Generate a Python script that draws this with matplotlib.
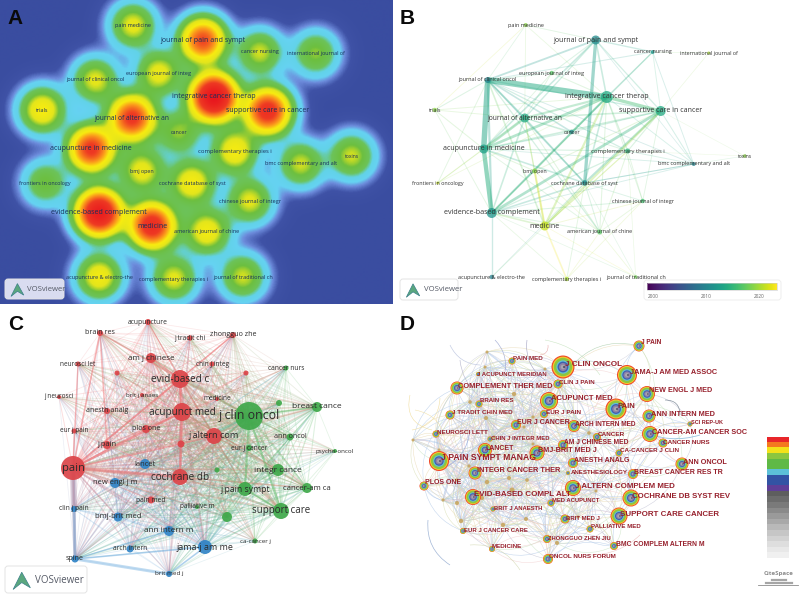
import itertools
import numpy as np
import matplotlib
matplotlib.use('Agg')
import matplotlib.pyplot as plt
from matplotlib.collections import LineCollection
from matplotlib.colors import LinearSegmentedColormap, ListedColormap, to_rgb
from matplotlib.patches import Circle, FancyBboxPatch, PathPatch, Polygon
from matplotlib.path import Path

plt.rcParams['font.family'] = ['Open Sans', 'DejaVu Sans']

# journal map shared by panels A and B (x, y as read in panel A)
journals = ['pain medicine', 'journal of pain and sympt', 'cancer nursing', 'international journal of',
            'european journal of integ', 'journal of clinical oncol', 'integrative cancer therap',
            'supportive care in cancer', 'trials', 'journal of alternative an', 'cancer',
            'acupuncture in medicine', 'complementary therapies i', 'bmc complementary and alt',
            'toxins', 'bmj open', 'frontiers in oncology', 'cochrane database of syst',
            'chinese journal of integr', 'evidence-based complement', 'medicine',
            'american journal of chine', 'acupuncture & electro-the', 'complementary therapies i',
            'journal of traditional ch']
journal_x = [133, 203, 260, 316, 159, 95, 214, 268, 42, 132, 179, 91, 235, 301, 352, 142, 45, 192, 250, 99, 152,
             207, 99, 174, 243]
journal_y = [25, 40, 52, 53, 73, 80, 97, 111, 110, 118, 132, 149, 151, 164, 156, 171, 183, 183, 201, 213, 226,
             232, 277, 279, 277]
journal_density = [.43, .72, .40, .36, .44, .42, .98, .80, .49, .76, .36, .76, .48, .40, .40, .44, .34, .48, .42,
                   .92, .82, .47, .47, .42, .40]
journal_year = [2019, 2011, 2012, 2020, 2017, 2010, 2014, 2014, 2019, 2014, 2011, 2013, 2015, 2010, 2019, 2019,
                2021, 2011, 2016, 2012, 2021, 2017, 2010, 2020, 2018]
journal_size = [2, 4.5, 2, 1.5, 2.2, 3, 6, 5, 2.2, 4.5, 2.2, 4.5, 2.5, 2, 1.8, 2.5, 1.5, 2.8, 2.2, 5, 4.5, 2.5,
                2.2, 2.2, 1.8]
journal_font = [4, 5, 4, 3.9, 4, 4, 5.1, 5, 3.9, 4.9, 3.9, 5, 4.2, 4, 3.6, 3.9, 3.9, 4, 4, 5.1, 5, 4, 4, 4, 4]
# (a, b, strength)
journal_links = [(5, 6, 5), (5, 11, 4.5), (11, 19, 3.5), (1, 17, 2.5), (6, 7, 2.5), (5, 19, 1.5), (6, 9, 1.5),
                 (6, 11, 2), (7, 19, 2), (7, 17, 1.5), (6, 19, 1.5), (6, 20, 1.5), (5, 1, 1.2), (9, 11, 2),
                 (5, 9, 1.2), (19, 20, 1), (7, 20, 1.5), (15, 20, 1.5), (22, 19, .8), (20, 23, 1), (1, 6, 1),
                 (1, 11, 1), (1, 9, .8), (17, 19, 1), (17, 11, 1), (5, 10, 1), (5, 17, 1), (5, 20, 1), (9, 17, 1),
                 (9, 19, 1), (9, 7, 1), (11, 7, 1), (5, 12, .7), (5, 7, .8), (6, 17, 1), (6, 10, .8), (1, 7, .7),
                 (1, 2, .8), (2, 6, .7), (1, 4, .5), (0, 1, .4), (0, 8, .3), (0, 5, .3), (0, 9, .3), (0, 6, .3),
                 (2, 3, .2), (3, 7, .2), (2, 5, .5), (2, 19, .7), (2, 13, .4), (2, 7, .4), (4, 5, .5), (4, 6, .5),
                 (4, 9, .4), (4, 11, .4), (8, 5, .5), (8, 11, .5), (8, 19, .4), (8, 6, .4), (8, 9, .4), (16, 11, .4),
                 (16, 5, .4), (16, 9, .4), (16, 6, .3), (10, 9, .6), (10, 11, .6), (10, 7, .5), (10, 19, .5),
                 (12, 6, .8), (12, 7, .6), (12, 11, .6), (12, 19, .7), (12, 20, .6), (12, 21, .5), (12, 13, .4),
                 (12, 18, .4), (12, 9, .5), (13, 7, .5), (13, 6, .4), (13, 17, .5), (13, 19, .4), (13, 1, .3),
                 (13, 14, .2), (13, 11, .4), (13, 5, .4), (15, 6, .5), (15, 7, .5), (15, 11, .5), (15, 19, .5),
                 (15, 9, .5), (15, 21, .3), (17, 18, .4), (17, 21, .5), (17, 20, .7), (17, 23, .4), (17, 13, .4),
                 (18, 19, .5), (18, 7, .4), (18, 6, .4), (18, 21, .4), (18, 20, .4), (21, 19, .5), (21, 9, .5),
                 (21, 6, .5), (21, 23, .3), (21, 24, .3), (21, 11, .4), (21, 5, .7), (22, 17, .3), (22, 20, .3),
                 (23, 19, .3), (23, 18, .3), (24, 19, .2), (24, 20, .2), (24, 17, .2), (24, 12, .2), (14, 7, .1),
                 (14, 12, .1), (20, 9, .8), (20, 12, .4)]

# cited journal map, panel C (cluster 0 red, 1 green, 2 blue)
cited_labels = ['acupuncture', 'brain res', 'j tradit chi', 'zhongguo zhe', 'am j chinese', 'neurosci let',
                'chin j integ', '', '', 'evid-based c', 'cancer nurs', 'brit j anaes', 'j neurosci', 'medicine', '',
                'breast cance', 'j clin oncol', 'acupunct med', 'anesth analg', 'eur j pain', 'plos one',
                'j altern com', 'ann oncol', 'j pain', '', 'eur j cancer', 'psycho-oncol', 'lancet', 'pain', '',
                'integr cance', 'cochrane db', 'new engl j m', 'j pain sympt', 'cancer-am ca', 'pain med',
                'clin j pain', 'palliative m', 'support care', '', 'bmj-brit med', 'ann intern m', 'ca-cancer j',
                'jama-j am me', 'arch intern', 'spine', 'brit med j']
cited_x = [148, 100, 190, 233, 151, 78, 212, 117, 246, 180, 286, 142, 59, 217, 279, 317, 249, 182, 107, 74, 146,
           214, 290, 107, 181, 249, 335, 145, 73, 217, 278, 180, 115, 245, 307, 151, 74, 197, 281, 227, 118, 169,
           255, 205, 130, 75, 169]
cited_y = [322, 333, 338, 335, 358, 364, 364, 373, 373, 379, 368, 395, 397, 399, 403, 407, 416, 412, 411, 431, 429,
           436, 437, 445, 444, 448, 451, 464, 468, 470, 470, 477, 483, 489, 488, 500, 509, 507, 511, 517, 517, 531,
           541, 547, 549, 559, 574]
cited_size = [3, 3, 2.7, 3, 5, 2.5, 2.5, 2.5, 2.5, 9, 2.5, 2, 2, 2, 3, 5, 14, 9, 3, 2.5, 4, 8, 3.5, 4, 3.5, 3, 2,
              5, 12, 2.5, 6, 8, 5, 7, 5, 3.5, 3, 2, 8, 5, 4.5, 5, 2.5, 7, 3.5, 3.5, 3]
cited_cluster = [0, 0, 0, 0, 0, 0, 0, 0, 0, 0, 1, 0, 0, 0, 1, 1, 1, 0, 0, 0, 0, 0, 1, 0, 0, 1, 1, 2, 0, 1, 1, 0, 2,
                 1, 1, 0, 2, 1, 1, 1, 2, 2, 1, 2, 2, 2, 2]
cited_font = [4.9, 5.1, 4.8, 5.1, 5.8, 4.7, 4.7, 0, 0, 7.2, 4.8, 4.5, 4.7, 4.7, 0, 6, 8.9, 7.2, 5, 4.7, 5.1, 6.6,
              5.1, 5.4, 0, 4.8, 4.5, 5.4, 8, 0, 6, 7.2, 5.5, 6.2, 5.6, 4.8, 4.8, 4.7, 7, 0, 5.5, 5.9, 4.5, 6.5, 4.8,
              5, 4.6]
cited_strong = [(28, 36, 4.5), (28, 45, 2.5), (45, 46, 2.2), (45, 36, 2), (28, 31, 2.5), (17, 31, 2), (17, 9, 2),
                (28, 17, 1.6), (16, 38, 1.5), (16, 33, 1.3), (1, 28, 1.2), (1, 9, 1.2), (1, 23, 1.2), (5, 28, 1),
                (28, 9, 1.2), (45, 43, 1.2), (43, 46, 1.2), (45, 41, 1), (16, 15, 1), (38, 33, 1), (3, 9, 1),
                (0, 9, .8), (4, 9, 1)]

# CiteSpace labels of panel D: node x, y, ring radius, label left, label y, label size
cite_labels = ['J PAIN', 'PAIN MED', 'J CLIN ONCOL', 'JAMA-J AM MED ASSOC', 'J ACUPUNCT MERIDIAN', 'CLIN J PAIN',
               'COMPLEMENT THER MED', 'NEW ENGL J MED', 'ACUPUNCT MED', 'BRAIN RES', 'PAIN', 'J TRADIT CHIN MED',
               'EUR J PAIN', 'ANN INTERN MED', 'SCI REP-UK', 'EUR J CANCER', 'ARCH INTERN MED',
               'CANCER-AM CANCER SOC', 'NEUROSCI LETT', 'CANCER', 'CHIN J INTEGR MED', 'CANCER NURS',
               'AM J CHINESE MED', 'LANCET', 'BMJ-BRIT MED J', 'CA-CANCER J CLIN', 'J PAIN SYMPT MANAG',
               'ANESTH ANALG', 'ANN ONCOL', 'INTEGR CANCER THER', 'ANESTHESIOLOGY', 'BREAST CANCER RES TR',
               'PLOS ONE', 'J ALTERN COMPLEM MED', 'EVID-BASED COMPL ALT', 'COCHRANE DB SYST REV', 'MED ACUPUNCT',
               'BRIT J ANAESTH', 'SUPPORT CARE CANCER', 'BRIT MED J', 'PALLIATIVE MED', 'EUR J CANCER CARE',
               'ZHONGGUO ZHEN JIU', 'BMC COMPLEM ALTERN M', 'MEDICINE', 'ONCOL NURS FORUM']
cite_x = [639, 512, 563, 627, 478, 558, 457, 647, 549, 479, 616, 450, 544, 649, 690, 516, 574, 650, 436, 597, 490,
          663, 563, 485, 537, 619, 439, 573, 682, 475, 568, 633, 424, 573, 473, 631, 551, 493, 619, 565, 590, 463,
          547, 614, 492, 548]
cite_y = [346, 361, 367, 375, 374, 384, 388, 394, 401, 404, 409, 415, 414, 416, 424, 425, 426, 434, 434, 437, 439,
          443, 445, 450, 453, 453, 461, 463, 464, 473, 473, 474, 486, 488, 497, 498, 503, 509, 516, 519, 529, 531,
          539, 546, 549, 559]
cite_r = [5.5, 3.5, 11.5, 10, 2, 4.5, 6.5, 8, 9, 3.5, 10.5, 4.5, 4, 6.5, 2.5, 5, 6, 8, 3.5, 4, 2.5, 4.5, 5, 7, 7.5,
          3.5, 10, 5, 6.5, 6.5, 2, 5, 4.5, 8, 8, 8.5, 3.5, 2.5, 8.5, 4.5, 3.5, 3, 4, 4, 3, 5]
cite_label_x = [641, 513, 565, 630, 477, 559, 458, 649, 551, 480, 617, 452, 546, 651, 691, 517, 575, 652, 437, 598,
                491, 663, 564, 486, 538, 620, 441, 574, 683, 477, 571, 634, 425, 575, 474, 632, 552, 494, 620, 566,
                591, 464, 548, 616, 492, 549]
cite_label_y = [343, 359, 365, 373, 374, 382, 386, 391, 398, 401, 407, 413, 412, 414, 422, 423, 424, 432, 432, 435,
                438, 442, 443, 449, 451, 451, 458, 461, 462, 471, 472, 472, 483, 486, 495, 496, 501, 508, 514, 518,
                527, 530, 538, 544, 547, 557]
cite_font = [4.7, 4.5, 5.9, 5.3, 4.3, 4.5, 5.4, 5.2, 5.5, 4.4, 5.6, 4.5, 4.6, 5.3, 4, 5, 4.7, 5.2, 4.6, 4.6, 4.3,
             4.6, 4.8, 5, 5.2, 4.5, 6.2, 5, 5.2, 5.3, 4.4, 5, 5, 5.7, 5.8, 5.6, 4.2, 4.2, 5.7, 4.3, 4.4, 4.3,
             4.2, 4.9, 4.5, 4.6]
cite_dots_x = [514, 470, 486, 524, 512, 457, 469, 494, 527, 509, 482, 439, 461, 487, 457, 485, 533, 589, 413, 443,
               503, 487, 526, 557, 578, 596, 566, 545, 533]
cite_dots_y = [394, 402, 418, 427, 490, 480, 466, 437, 480, 478, 498, 450, 521, 352, 503, 367, 417, 433, 440, 500,
               525, 482, 519, 543, 517, 491, 373, 369, 444]
cite_dots_r = [2.2, 1.8, 2, 1.5, 2.5, 1.5, 1.6, 1.5, 1.8, 2, 2, 1.5, 2.2, 1.5, 2, 1.5, 1.6, 1.8, 1.5, 1.6, 2.2, 2.2, 2,
               2, 1.5, 1.5, 2.5, 1.5, 1.5]
ring_colors = ['#ee4a2a', '#f7c52a', '#8cc63f', '#62c0d8', '#3e5fb0', '#8c80a8', '#a9a5b0']
ring_bands = ['#e8262a', '#f4791f', '#f3e21a', '#8cc63f', '#5fb946', '#5cc0d8', '#3353a4', '#5f3f98']
gray_bands = ['#5e5e5e', '#6c6c6c', '#7a7a7a', '#8a8a8a', '#9a9a9a', '#a9a9a9', '#b9b9b9', '#c6c6c6', '#d2d2d2',
              '#dedede', '#e8e8e8', '#f0f0f0']


def density_panel(ax, xs, ys, weights):
    gx, gy = np.meshgrid(np.arange(0, 394), np.arange(0, 305))
    field = np.zeros(gx.shape)
    for x, y, w in zip(xs, ys, weights):
        field = field + (w * np.exp(-((gx - x) ** 2 + (gy - y) ** 2) / (2 * 19.0 ** 2))) ** 1.7
    field = field ** (1 / 1.7)
    cmap = LinearSegmentedColormap.from_list('density', [
        (0, '#3a4da0'), (.06, '#3f52a6'), (.11, '#6d8cdc'), (.15, '#66d2f2'), (.21, '#62d3e8'), (.26, '#6cc35a'),
        (.34, '#6dbf3f'), (.41, '#e3e51c'), (.50, '#f8ec10'), (.60, '#fb9a1c'), (.74, '#ee3a23'), (1, '#e8141e')])
    ax.imshow(field, cmap=cmap, vmin=0, vmax=1, extent=(0, 393, 304, 0), interpolation='bilinear', zorder=1)
    ax.set_xlim(0, 800)
    ax.set_ylim(595, 0)


def vos_logo(ax, x, y, w, h, face, size):
    ax.add_patch(FancyBboxPatch((x + 2, y + 2), w - 4, h - 4, boxstyle='round,pad=2,rounding_size=3', fc=face,
                                ec='#e4e4e4', lw=.7, zorder=6))
    g = h * .32
    cx = x + h * .62
    cy = y + h * .55
    ax.add_patch(Polygon([[cx - g, cy + g], [cx, cy - g], [cx + g, cy + g * .8], [cx, cy + g * .2]], fc='#5aa77e',
                         ec='#3b7f8a', lw=.5, zorder=7))
    ax.text(x + h * 1.12, y + h * .52, 'VOSviewer', fontsize=size, color='#555a66', va='center', zorder=7)


def labels(ax, xs, ys, names, fonts, color, dx=0):
    for x, y, name, f in zip(xs, ys, names, fonts):
        if name and f > 0:
            ax.text(x + dx, y, name, fontsize=f, color=color, ha='center', va='center', zorder=5)


def overlay_panel(ax):
    dx = 392.7
    xs = np.array(journal_x) + dx
    ys = np.array(journal_y)
    cmap = plt.get_cmap('viridis')
    norm = plt.Normalize(2000, 2023)
    segs, colors, widths = [], [], []
    for a, b, s in sorted(journal_links, key=lambda link: link[2]):
        segs.append([(xs[a], ys[a]), (xs[b], ys[b])])
        c = cmap(norm((journal_year[a] + journal_year[b]) / 2 + 2))
        colors.append((c[0], c[1], c[2], min(.12 + s * .12, .5)))
        widths.append(.35 + s * .8)
    ax.add_collection(LineCollection(segs, colors=colors, linewidths=widths, zorder=2))
    for x, y, r, yr in zip(xs, ys, journal_size, journal_year):
        ax.add_patch(Circle((x, y), r, fc=cmap(norm(yr)), ec='none', alpha=.75, zorder=3))
    labels(ax, xs, ys, journals, journal_font, '#333333')
    # colour scale
    ax.add_patch(FancyBboxPatch((645, 281), 135, 18, boxstyle='round,pad=1,rounding_size=3', fc='white',
                                ec='#eeeeee', lw=.7, zorder=2))
    years = np.linspace(2000, 2023, 200)
    ax.imshow([years], cmap=cmap, norm=norm, extent=(647, 777, 290, 283), aspect='auto', zorder=3)
    ax.add_patch(plt.Rectangle((647, 283), 130, 7, fc='none', ec='#cccccc', lw=.4, zorder=4))
    for yr in [2000, 2010, 2020]:
        ax.text(653 + (yr - 2000) * 5.3, 296, str(yr), fontsize=3.4, color='#666666', ha='center', va='center',
                zorder=4)


def cluster_panel(ax):
    base = ['#dc4448', '#3fa84a', '#3184c6']
    soft = [np.array(to_rgb(c)) for c in ['#ee7478', '#6cc074', '#62a6dc']]
    segs, colors, widths = [], [], []
    for a, b in itertools.combinations(range(len(cited_x)), 2):
        weight = cited_size[a] * cited_size[b]
        if weight < 7:
            continue
        big, small = (a, b) if cited_size[a] >= cited_size[b] else (b, a)
        segs.append([(cited_x[a], cited_y[a]), (cited_x[b], cited_y[b])])
        c = soft[cited_cluster[big]] * .7 + soft[cited_cluster[small]] * .3
        colors.append((c[0], c[1], c[2], min(.13 + weight * .004, .36)))
        widths.append(.45 + min(weight * .012, 1.1))
    for a, b, s in cited_strong:
        segs.append([(cited_x[a], cited_y[a]), (cited_x[b], cited_y[b])])
        c = (soft[cited_cluster[a]] + soft[cited_cluster[b]]) / 2
        colors.append((c[0], c[1], c[2], .4))
        widths.append(s)
    ax.add_collection(LineCollection(segs, colors=colors, linewidths=widths, zorder=2))
    for x, y, r, k in zip(cited_x, cited_y, cited_size, cited_cluster):
        ax.add_patch(Circle((x, y), r, fc=base[k], ec='none', alpha=.92, zorder=3))
    labels(ax, cited_x, cited_y, cited_labels, cited_font, '#2b2b2b')


def curve(ax, p, q, bend, color, alpha, lw):
    mid = ((p[0] + q[0]) / 2 - (q[1] - p[1]) * bend, (p[1] + q[1]) / 2 + (q[0] - p[0]) * bend)
    path = Path([p, mid, q], [Path.MOVETO, Path.CURVE3, Path.CURVE3])
    ax.add_patch(PathPatch(path, fc='none', ec=color, alpha=alpha, lw=lw, zorder=2))


def citespace_panel(ax):
    palette = ['#cfcfdc', '#b4cdee', '#d6dcae', '#adc6e6', '#c6e2c0', '#e8d8b0', '#c0c0d2', '#f0cccc']
    xs = cite_x + cite_dots_x
    ys = cite_y + cite_dots_y
    count = 0
    for a, b in itertools.combinations(range(len(xs)), 2):
        d = np.hypot(xs[a] - xs[b], ys[a] - ys[b])
        if d < 85:
            bend = .28 if count % 2 else -.28
            curve(ax, (xs[a], ys[a]), (xs[b], ys[b]), bend, palette[count % len(palette)], .7, .4)
            count += 1
    # loose curves around the outer part of the map
    curve(ax, (410, 395), (432, 430), .5, '#f0dc9a', .9, .4)
    curve(ax, (412, 430), (440, 398), .4, '#f0dc9a', .9, .4)
    curve(ax, (415, 410), (445, 445), -.4, '#f0dc9a', .8, .4)
    curve(ax, (527, 340), (545, 380), .3, '#7a7aa8', .7, .4)
    curve(ax, (635, 345), (570, 368), .3, '#9bc49b', .7, .4)
    curve(ax, (665, 400), (680, 415), -.5, '#556677', .7, .5)
    curve(ax, (540, 355), (548, 345), .5, '#e39a9a', .8, .4)
    curve(ax, (428, 520), (450, 565), .3, '#8aa4cc', .8, .5)
    curve(ax, (470, 545), (520, 570), -.3, '#c9d0a0', .7, .4)
    curve(ax, (590, 555), (640, 535), .2, '#e0a0a0', .6, .4)
    curve(ax, (640, 430), (700, 435), .2, '#7fb6d8', .8, .6)
    curve(ax, (450, 345), (480, 365), .3, '#b8c2de', .8, .5)
    curve(ax, (495, 340), (505, 372), -.25, '#9aa4d0', .8, .5)
    curve(ax, (460, 360), (478, 395), .2, '#b5b5cc', .8, .5)
    curve(ax, (440, 470), (470, 430), .3, '#8da0d8', .8, .5)
    curve(ax, (545, 340), (600, 375), -.2, '#b9dcb0', .7, .4)
    for x, y, r in zip(cite_dots_x, cite_dots_y, cite_dots_r):
        ax.add_patch(Circle((x, y), r, fc='#c8a45a', ec='none', alpha=.85, zorder=3))
    steps = [1, .9, .8, .58, .47, .35, .2]
    for x, y, r in zip(cite_x, cite_y, cite_r):
        for color, step in zip(ring_colors, steps):
            ax.add_patch(Circle((x, y), r * step, fc=color, ec='none', zorder=4))
        ax.add_patch(Circle((x + r * .1, y), r * .1, fc='#55556a', ec='none', zorder=4))
    for x, y, name, f in zip(cite_label_x, cite_label_y, cite_labels, cite_font):
        ax.text(x, y, name, fontsize=f, color='#97202c', family='Liberation Sans', weight='bold', ha='left',
                va='center', zorder=5)
    # colour legend and logo
    bands = ring_bands + gray_bands
    heights = [5.3, 5.3, 5.3, 6, 10.7, 5.3, 10.7, 5.3] + [5.6] * 12
    top = 437.3
    for color, h in zip(bands, heights):
        ax.imshow([[0]], cmap=ListedColormap([color]), extent=(767, 789, top + h, top), aspect='auto', zorder=3)
        top = top + h
    ax.text(779, 573, 'CiteSpace', fontsize=4.4, color='#8c8c8c', weight='bold', ha='center', va='center', zorder=4)
    ax.plot([758, 798], [585, 585], color='#8c8c8c', lw=.6, zorder=4)
    ax.plot([766, 792], [582.5, 582.5], color='#a5a5a5', lw=1.6, zorder=4)
    ax.plot([772, 786], [580, 580], color='#a5a5a5', lw=1.6, zorder=4)


def main():
    fig = plt.figure(figsize=(8, 5.95), dpi=100)
    ax = fig.add_axes([0, 0, 1, 1])
    ax.axis('off')

    density_panel(ax, journal_x, journal_y, journal_density)
    labels(ax, journal_x, journal_y, journals, journal_font, '#17305c')
    vos_logo(ax, 5, 279, 59, 20, '#d9dcf0', 5.6)

    overlay_panel(ax)
    vos_logo(ax, 400, 279, 58, 21, 'white', 5.6)

    cluster_panel(ax)
    vos_logo(ax, 5, 566, 82, 27, 'white', 7)

    citespace_panel(ax)

    for letter, x, y in [('A', 15, 18), ('B', 407, 18), ('C', 16, 324), ('D', 407, 325)]:
        ax.text(x, y, letter, fontsize=15, weight='bold', family='Liberation Sans', color='#0a0a0a', ha='center',
                va='center', zorder=8)

    ax.set_xlim(0, 800)
    ax.set_ylim(595, 0)
    fig.savefig('out.png', dpi=100)


if __name__ == '__main__':
    main()
